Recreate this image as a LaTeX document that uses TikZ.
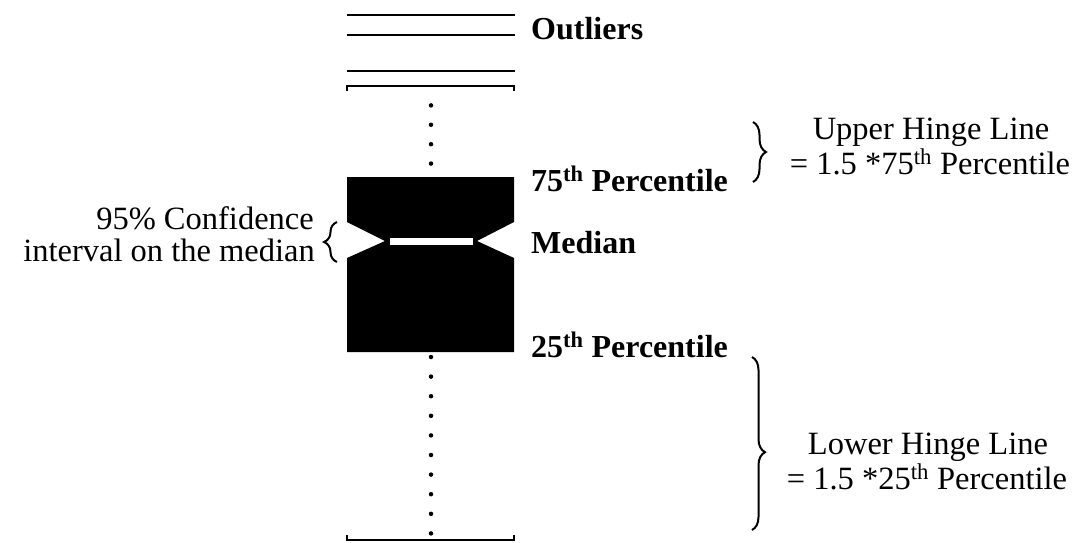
\documentclass[tikz,border=0pt]{standalone}
\usepackage{fontspec}
\setmainfont{Liberation Serif}
\usetikzlibrary{decorations.pathreplacing}
\begin{document}
\begin{tikzpicture}[x=1pt,y=-1pt,
  lbl/.style={font=\fontsize{32}{36}\selectfont\bfseries, inner sep=0pt, anchor=base west},
  note/.style={font=\fontsize{32.5}{36}\selectfont, inner sep=0pt, anchor=base},
  notee/.style={font=\fontsize{32.5}{36}\selectfont, inner sep=0pt, anchor=base east},
  outl/.style={line width=2pt},
  whisk/.style={line width=2.4pt},
  dotsup/.style={line width=4.5pt, line cap=round, dash pattern=on 0pt off 19.4pt, dash phase=0.01pt},
  dotsdn/.style={line width=4.5pt, line cap=round, dash pattern=on 0pt off 19.6pt, dash phase=14.6pt},
  brc/.style={decorate, decoration={brace, amplitude=13pt, aspect=#1}, line width=2pt},
  brc/.default=0.5
]
\useasboundingbox (0,0) rectangle (1082,542);

% outlier lines
\coordinate (o1a) at (347,15); \coordinate (o1b) at (515,15);
\coordinate (o2a) at (347,35); \coordinate (o2b) at (515,35);
\coordinate (o3a) at (347,71); \coordinate (o3b) at (515,71);
\draw[outl] (o1a) -- (o1b);
\draw[outl] (o2a) -- (o2b);
\draw[outl] (o3a) -- (o3b);

% whiskers
\coordinate (wt) at (431,86);
\coordinate (wb) at (431,540);
\draw[whisk] (347,91) -- (347,86) -- (wt) -- (514,86) -- (514,91);
\draw[whisk] (347,535) -- (347,540) -- (wb) -- (514,540) -- (514,535);

% notched box
\coordinate (bt) at (431,177);
\coordinate (bb) at (431,352);
\fill (347,177) -- (514,177) -- (514,222) -- (477,241) -- (514,258) -- (514,352)
      -- (347,352) -- (347,258) -- (385,241) -- (347,222) -- cycle;
\fill[white] (390,237.5) rectangle (473,245);

% dotted whisker lines
\draw[dotsup] (wt) -- (bt);
\draw[dotsdn] (bb) -- (wb);

% labels beside the box
\node[lbl] (out) at (531,39) {Outliers};
\node[lbl] (p75) at (531,191) {75\textsuperscript{th} Percentile};
\node[lbl] (med) at (531,253) {Median};
\node[lbl] (p25) at (531,357) {25\textsuperscript{th} Percentile};

% confidence interval
\node[notee] (ci1) at (314,229) {95\% Confidence};
\node[notee] (ci2) at (315,261) {interval on the median};
\coordinate (cia) at (337,262);
\coordinate (cib) at (337,222);
\draw[brc] (cia) -- (cib);

% upper hinge
\coordinate (uha) at (753,122);
\coordinate (uhb) at (753,182);
\draw[brc] (uha) -- (uhb);
\node[note] (uh1) at (931,139) {Upper Hinge Line};
\node[note] (uh2) at (930,174) {= 1.5 *75\textsuperscript{th} Percentile};

% lower hinge
\coordinate (lha) at (752,357);
\coordinate (lhb) at (752,530);
\draw[brc=0.55] (lha) -- (lhb);
\node[note] (lh1) at (928,454) {Lower Hinge Line};
\node[note] (lh2) at (927,489) {= 1.5 *25\textsuperscript{th} Percentile};
\end{tikzpicture}
\end{document}
